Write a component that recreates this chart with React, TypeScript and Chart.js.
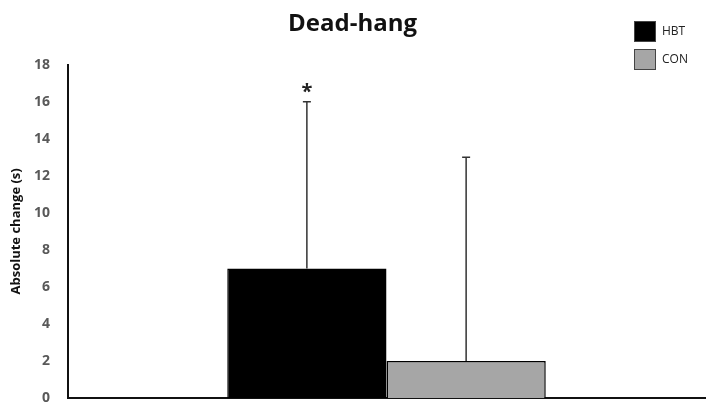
import React, { useEffect, useRef } from "react";
import { Chart, registerables } from "chart.js";

Chart.register(...registerables);

const categories = [""];
const seriesNames = ["HBT", "CON"];
const hbtValues = [7];
const conValues = [2];
const hbtErrors = [9];
const conErrors = [11];
const significance = ["*", ""];
const yTicksMax = 18;
const yTicksStep = 2;

const FONT = "'Open Sans', 'Noto Sans', sans-serif";

const errorBarPlugin = {
  id: "errorBars",
  afterDatasetsDraw(chart: any) {
    const ctx = chart.ctx;
    const yScale = chart.scales.y;
    chart.data.datasets.forEach((ds: any, di: number) => {
      const meta = chart.getDatasetMeta(di);
      meta.data.forEach((el: any, i: number) => {
        const v = ds.data[i];
        const err = ds.errors ? ds.errors[i] : 0;
        const yTop = yScale.getPixelForValue(v + err);
        ctx.save();
        ctx.strokeStyle = "#333";
        ctx.lineWidth = 1.5;
        ctx.beginPath();
        ctx.moveTo(el.x, el.y);
        ctx.lineTo(el.x, yTop);
        ctx.moveTo(el.x - 4, yTop);
        ctx.lineTo(el.x + 4, yTop);
        ctx.stroke();
        const mark = ds.marks ? ds.marks[i] : "";
        if (mark) {
          ctx.fillStyle = "#222";
          ctx.font = `bold 20px ${FONT}`;
          ctx.textAlign = "center";
          ctx.textBaseline = "middle";
          ctx.fillText(mark, el.x, yTop - 10);
        }
        ctx.restore();
      });
    });
  },
};

const legendPlugin = {
  id: "boxLegend",
  afterDraw(chart: any) {
    const ctx = chart.ctx;
    const x0 = 634;
    const y0 = 21;
    const gap = 28;
    chart.data.datasets.forEach((ds: any, di: number) => {
      const y = y0 + di * gap;
      ctx.save();
      ctx.fillStyle = ds.backgroundColor;
      ctx.fillRect(x0, y, 22, 21);
      ctx.strokeStyle = "#444";
      ctx.lineWidth = 1;
      ctx.strokeRect(x0 + 0.5, y + 0.5, 21, 20);
      ctx.fillStyle = "#222";
      ctx.font = `12px ${FONT}`;
      ctx.textAlign = "left";
      ctx.textBaseline = "middle";
      ctx.fillText(ds.label, x0 + 28, y + 10.5);
      ctx.restore();
    });
  },
};

export default function App() {
  const ref = useRef<HTMLCanvasElement | null>(null);
  useEffect(() => {
    if (!ref.current) return;
    const chart = new Chart(ref.current, {
      type: "bar",
      data: {
        labels: categories,
        datasets: [
          {
            label: seriesNames[0],
            data: hbtValues,
            errors: hbtErrors,
            marks: [significance[0]],
            backgroundColor: "#000000",
            borderColor: "#000000",
            borderWidth: 1.5,
          } as any,
          {
            label: seriesNames[1],
            data: conValues,
            errors: conErrors,
            marks: [significance[1]],
            backgroundColor: "#a6a6a6",
            borderColor: "#000000",
            borderWidth: 1.5,
          } as any,
        ],
      },
      options: {
        animation: false,
        responsive: false,
        maintainAspectRatio: false,
        layout: { padding: { left: 0, right: 3, top: 0, bottom: 10 } },
        datasets: { bar: { barPercentage: 1, categoryPercentage: 0.5 } },
        plugins: {
          legend: { display: false },
          tooltip: { enabled: false },
          title: {
            display: true,
            text: "Dead-hang",
            color: "#111",
            font: { family: FONT, size: 24, weight: "bold" },
            padding: { top: 10, bottom: 26 },
          },
        },
        scales: {
          x: {
            grid: { display: false },
            ticks: { display: false },
            border: { display: true, color: "#111", width: 2 },
            afterFit: (s: any) => {
              s.height = 0;
            },
          },
          y: {
            min: 0,
            max: yTicksMax,
            grid: { display: false, drawTicks: false },
            border: { display: true, color: "#111", width: 2 },
            ticks: {
              stepSize: yTicksStep,
              color: "#595959",
              padding: 18,
              font: { family: FONT, size: 14, weight: "bold" },
            },
            title: {
              display: true,
              text: "Absolute change (s)",
              color: "#111",
              font: { family: FONT, size: 13, weight: "bold" },
              padding: { top: 8, bottom: 0 },
            },
            afterFit: (s: any) => {
              s.width = 68;
              s.paddingTop = 0;
              s.paddingBottom = 0;
            },
          },
        },
      } as any,
      plugins: [errorBarPlugin, legendPlugin],
    });
    return () => chart.destroy();
  }, []);
  return (
    <div style={{ position: "fixed", left: 0, top: 0, width: 708, height: 408, background: "#fff" }}>
      <canvas ref={ref} width={708} height={408} style={{ width: 708, height: 408 }} />
    </div>
  );
}
